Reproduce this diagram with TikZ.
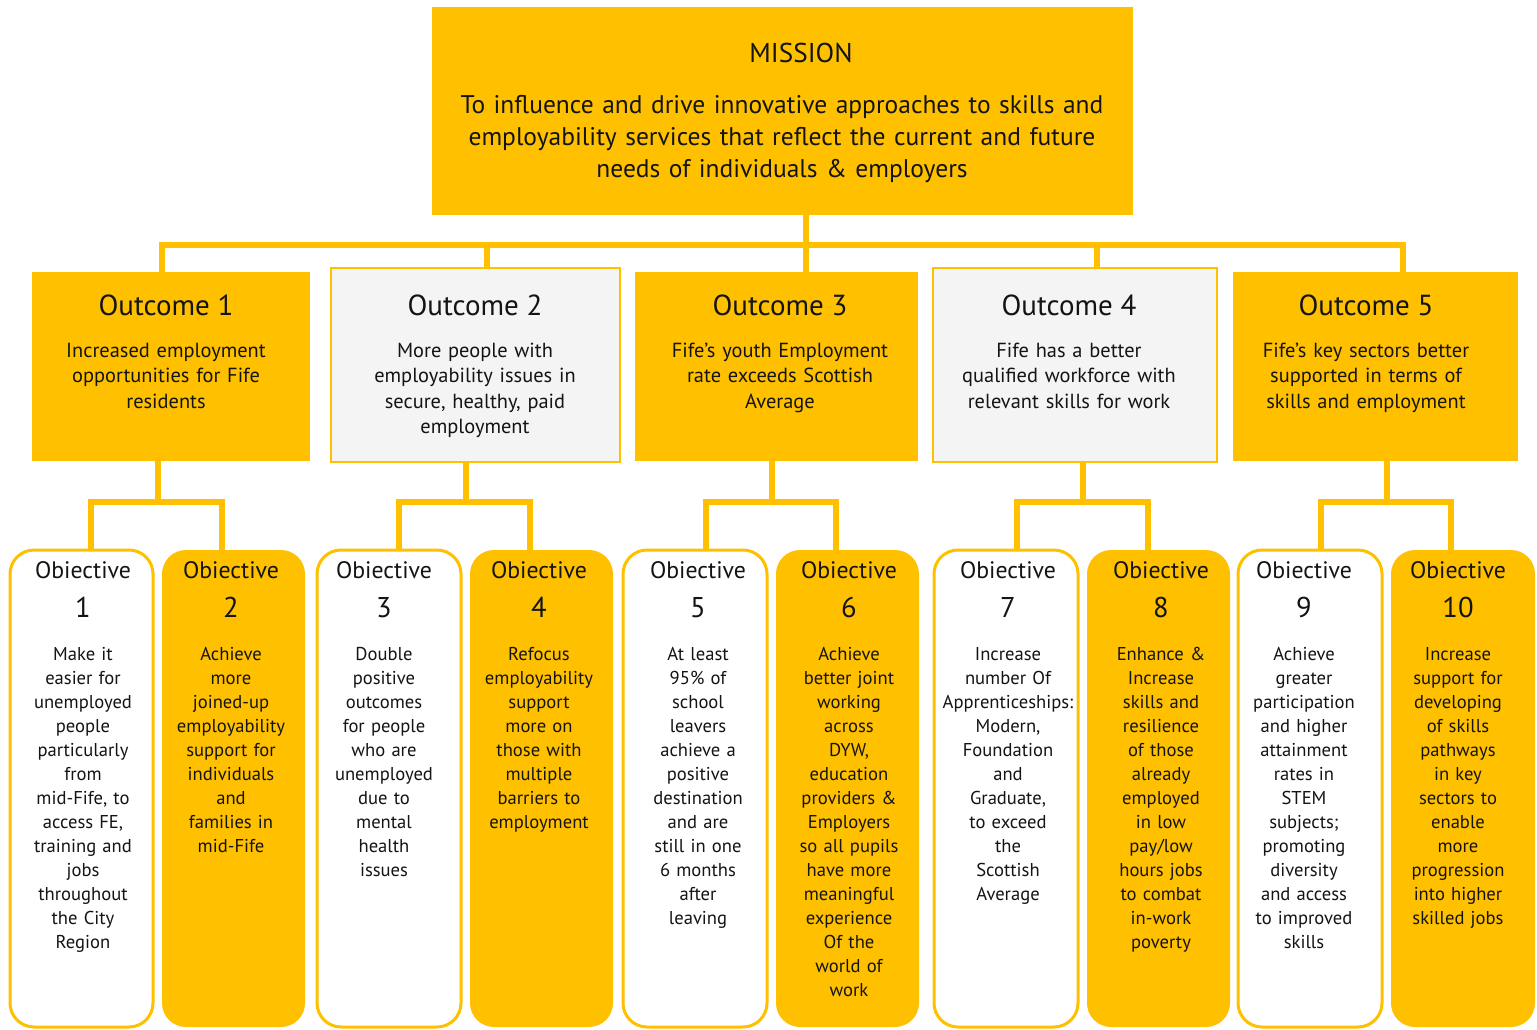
\documentclass[tikz,border=0pt]{standalone}
\usepackage{fontspec}
\setmainfont{PT Sans}
\usetikzlibrary{fit,backgrounds}
\definecolor{gold}{HTML}{FFC000}
\definecolor{paper}{HTML}{F4F4F4}
\definecolor{ink}{HTML}{141414}
\tikzset{
  conn/.style={draw=gold, line width=2.6pt},
  goldbox/.style={fill=gold, inner sep=0pt},
  graybox/.style={fill=paper, draw=gold, line width=1pt, inner sep=0pt},
  objwhite/.style={fill=white, draw=gold, line width=1.5pt, rounded corners=12pt, inner sep=0pt},
  objgold/.style={fill=gold, rounded corners=12pt, inner sep=0pt},
  txt/.style={anchor=base, align=center, inner sep=0pt, text=ink},
  misstitle/.style={txt, font=\fontsize{13.6}{16}\selectfont},
  missbody/.style={txt, text width=380pt, font=\fontsize{12.75}{16}\selectfont},
  outtitle/.style={txt, font=\fontsize{14.5}{17}\selectfont},
  outbody/.style={txt, text width=150pt, font=\fontsize{10.2}{12.75}\selectfont},
  objtitle/.style={txt, font=\fontsize{11.9}{14}\selectfont},
  objnum/.style={txt, font=\fontsize{14.3}{17}\selectfont},
  objbody/.style={txt, text width=90pt, font=\fontsize{9.3}{12}\selectfont},
}
\newcommand\objbox[7]{%
  \node[#4, fit={(#2,550)(#3,1027)}] (#1) {};
  \node[objtitle] (#1t) at (#5,578) {Obiective};
  \node[objnum] (#1n) at (#5,617) {#6};
  \node[objbody] (#1b) at (#5,660) {#7};
}
\begin{document}
\begin{tikzpicture}[x=0.5pt,y=-0.5pt]
\useasboundingbox (0,0) rectangle (1537,1029);

% Mission
\node[goldbox, fit={(432,7)(1133,215)}] (mission) {};
\node[misstitle] (missiont) at (801,62) {MISSION};
\node[missbody] (missionb) at (782,113) {To influence and drive innovative approaches to skills and\\employability services that reflect the current and future\\needs of individuals \& employers};

% Outcomes
\node[goldbox, fit={(32,272)(310,461)}] (o1) {};
\node[outtitle] (o1t) at (166,315) {Outcome 1};
\node[outbody] (o1b) at (166,357) {Increased employment\\opportunities for Fife\\residents};

\node[graybox, fit={(331,268)(620,462)}] (o2) {};
\node[outtitle] (o2t) at (475,315) {Outcome 2};
\node[outbody] (o2b) at (475,357) {More people with\\employability issues in\\secure, healthy, paid\\employment};

\node[goldbox, fit={(635,272)(918,461)}] (o3) {};
\node[outtitle] (o3t) at (780,315) {Outcome 3};
\node[outbody] (o3b) at (780,357) {Fife’s youth Employment\\rate exceeds Scottish\\Average};

\node[graybox, fit={(933,268)(1217,462)}] (o4) {};
\node[outtitle] (o4t) at (1069,315) {Outcome 4};
\node[outbody] (o4b) at (1069,357) {Fife has a better\\qualified workforce with\\relevant skills for work};

\node[goldbox, fit={(1233,272)(1518,461)}] (o5) {};
\node[outtitle] (o5t) at (1366,315) {Outcome 5};
\node[outbody] (o5b) at (1366,357) {Fife’s key sectors better\\supported in terms of\\skills and employment};

% Objectives
\objbox{ob1}{10}{153}{objwhite}{83}{1}{Make it\\easier for\\unemployed\\people\\particularly\\from\\mid-Fife, to\\access FE,\\training and\\jobs\\throughout\\the City\\Region}
\objbox{ob2}{162}{305}{objgold}{231}{2}{Achieve\\more\\joined-up\\employability\\support for\\individuals\\and\\families in\\mid-Fife}
\objbox{ob3}{317}{461}{objwhite}{384}{3}{Double\\positive\\outcomes\\for people\\who are\\unemployed\\due to\\mental\\health\\issues}
\objbox{ob4}{470}{613}{objgold}{539}{4}{Refocus\\employability\\support\\more on\\those with\\multiple\\barriers to\\employment}
\objbox{ob5}{623}{767}{objwhite}{698}{5}{At least\\95\% of\\school\\leavers\\achieve a\\positive\\destination\\and are\\still in one\\6 months\\after\\leaving}
\objbox{ob6}{776}{919}{objgold}{849}{6}{Achieve\\better joint\\working\\across\\DYW,\\education\\providers \&\\Employers\\so all pupils\\have more\\meaningful\\experience\\Of the\\world of\\work}
\objbox{ob7}{934}{1078}{objwhite}{1008}{7}{Increase\\number Of\\Apprenticeships:\\Modern,\\Foundation\\and\\Graduate,\\to exceed\\the\\Scottish\\Average}
\objbox{ob8}{1087}{1230}{objgold}{1161}{8}{Enhance \&\\Increase\\skills and\\resilience\\of those\\already\\employed\\in low\\pay/low\\hours jobs\\to combat\\in-work\\poverty}
\objbox{ob9}{1238}{1382}{objwhite}{1304}{9}{Achieve\\greater\\participation\\and higher\\attainment\\rates in\\STEM\\subjects;\\promoting\\diversity\\and access\\to improved\\skills}
\objbox{ob10}{1391}{1535}{objgold}{1458}{10}{Increase\\support for\\developing\\of skills\\pathways\\in key\\sectors to\\enable\\more\\progression\\into higher\\skilled jobs}

% Connectors
\begin{scope}[on background layer]
\coordinate (bL) at (162,245);
\coordinate (b2) at (487,245);
\coordinate (b3) at (806,245);
\coordinate (b4) at (1097,245);
\coordinate (bR) at (1403,245);
\draw[conn] (o1.north -| bL) -- (bL) -- (bR) -- (o5.north -| bR);
\draw[conn] (b2) -- (o2.north -| b2);
\draw[conn] (b4) -- (o4.north -| b4);
\draw[conn] (mission.south -| b3) -- (o3.north -| b3);
% outcome 1
\coordinate (j1) at (158,502); \coordinate (l1) at (91,502); \coordinate (r1) at (222,502);
\draw[conn] (o1.south -| j1) -- (j1);
\draw[conn] (ob1.north -| l1) -- (l1) -- (r1) -- (ob2.north -| r1);
% outcome 2
\coordinate (j2) at (466,502); \coordinate (l2) at (399,502); \coordinate (r2) at (530,502);
\draw[conn] (o2.south -| j2) -- (j2);
\draw[conn] (ob3.north -| l2) -- (l2) -- (r2) -- (ob4.north -| r2);
% outcome 3
\coordinate (j3) at (772,502); \coordinate (l3) at (706,502); \coordinate (r3) at (836,502);
\draw[conn] (o3.south -| j3) -- (j3);
\draw[conn] (ob5.north -| l3) -- (l3) -- (r3) -- (ob6.north -| r3);
% outcome 4
\coordinate (j4) at (1083,502); \coordinate (l4) at (1017,502); \coordinate (r4) at (1148,502);
\draw[conn] (o4.south -| j4) -- (j4);
\draw[conn] (ob7.north -| l4) -- (l4) -- (r4) -- (ob8.north -| r4);
% outcome 5
\coordinate (j5) at (1387,502); \coordinate (l5) at (1321,502); \coordinate (r5) at (1451,502);
\draw[conn] (o5.south -| j5) -- (j5);
\draw[conn] (ob9.north -| l5) -- (l5) -- (r5) -- (ob10.north -| r5);
\end{scope}
\end{tikzpicture}
\end{document}
